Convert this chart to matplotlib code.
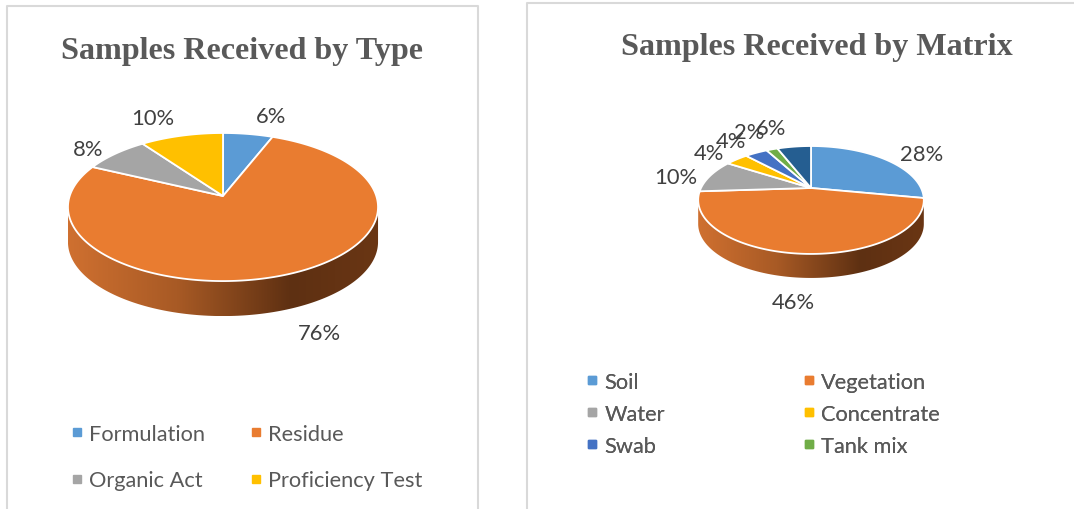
import numpy as np
import matplotlib
matplotlib.use("Agg")
import matplotlib.pyplot as plt
from matplotlib.colors import LinearSegmentedColormap
from matplotlib.lines import Line2D
from matplotlib.patches import Polygon
from matplotlib.path import Path
from matplotlib.transforms import Affine2D, Transform

# ---- data ----
type_labels = ["Formulation", "Residue", "Organic Act", "Proficiency Test"]
type_values = [6, 76, 8, 10]
type_colors = ["#5B9BD5", "#E97C30", "#A5A5A5", "#FFC000"]
type_title = "Samples Received by Type"

matrix_labels = ["Soil", "Vegetation", "Water", "Concentrate", "Swab", "Tank mix"]
matrix_values = [28, 46, 10, 4, 4, 2, 6]
matrix_colors = ["#5B9BD5", "#E97C30", "#A5A5A5", "#FFC000", "#4472C4", "#70AD47", "#255E91"]
matrix_title = "Samples Received by Matrix"

# ---- layout (pixels) ----
type_pct_pos = [(271, 117), (319, 334), (88, 150), (153, 119)]
matrix_pct_pos = [(922, 155), (793, 303), (676, 178), (709, 154), (731, 142), (749, 133), (771, 129)]

W, H = 1074, 510
TEXT = "#404040"
LEG = "#595959"
LABEL_FONT = "Lato"


class Perspective(Transform):
    """Projects the flat unit pie as a tilted disc seen in perspective."""
    input_dims = output_dims = 2

    def __init__(self, k):
        super().__init__()
        self.k = k

    def transform_non_affine(self, values):
        values = np.asarray(values, float)
        d = 1 + self.k * values[:, 1]
        return np.column_stack([values[:, 0] / d, values[:, 1] / d])

    def transform_path_non_affine(self, path):
        polys = path.to_polygons(Affine2D().scale(2000), closed_only=True)
        pts = np.vstack(polys) / 2000
        return Path(self.transform_non_affine(pts), closed=True)


fig = plt.figure(figsize=(W / 100, H / 100), dpi=100)
ax = fig.add_axes([0, 0, 1, 1])
wall_cmap = LinearSegmentedColormap.from_list(
    "wall", [(0, "#CF7030"), (0.35, "#A85A25"), (0.72, "#5E3012"), (1, "#6A3614")])


def pie3d(values, colors, cx, cy, sx, sy, k, depth):
    wedges, _ = ax.pie(values, colors=colors, startangle=90, counterclock=False,
                       wedgeprops=dict(edgecolor="white", linewidth=1.3))
    persp = Perspective(k)
    to_px = Affine2D().scale(sx, -sy).translate(cx, cy)
    for w in wedges:
        w.set_transform(persp + to_px + ax.transData)
        w.set_zorder(2)
    # side wall along the near edge of the disc
    start = np.arcsin(k)
    a = np.linspace(np.pi + start, 2 * np.pi - start, 200)
    rim = to_px.transform(persp.transform(np.column_stack([np.cos(a), np.sin(a)])))
    low = rim + [0, depth]
    wall = Polygon(np.vstack([rim, low[::-1]]), closed=True, transform=ax.transData,
                   facecolor="none", edgecolor="none")
    ax.add_patch(wall)
    img = ax.imshow(np.linspace(0, 1, 256)[None, :], cmap=wall_cmap, aspect="auto",
                    extent=(rim[:, 0].min(), rim[:, 0].max(), low[:, 1].max(), rim[:, 1].min()),
                    zorder=1)
    img.set_clip_path(wall)


def pct_labels(values, positions, size):
    for v, (x, y) in zip(values, positions):
        ax.text(x, y, f"{v}%", ha="center", va="center", fontsize=size,
                color=TEXT, family=LABEL_FONT, zorder=5)


def legend(labels, colors, x, y, ncol_gap, row_gap):
    handles = [Line2D([], [], ls="none", marker="s", ms=5.6, color=c, label=t)
               for t, c in zip(labels, colors)]
    leg = ax.legend(handles=handles, ncol=2, frameon=False, loc="upper left",
                    bbox_to_anchor=(x, y), bbox_transform=ax.transData,
                    borderpad=0, borderaxespad=0, handlelength=0.5, handletextpad=0.3,
                    columnspacing=ncol_gap, labelspacing=row_gap,
                    prop=dict(family=LABEL_FONT, size=15.7), labelcolor=LEG)
    ax.add_artist(leg)


pie3d(type_values, type_colors, 223, 197, 153.3, 72.4, 0.149, 35)
pie3d(matrix_values, matrix_colors, 811, 189, 110, 51.3, 0.222, 24)

pct_labels(type_values, type_pct_pos, 15.8)
pct_labels(matrix_values, matrix_pct_pos, 15.8)

ax.text(242, 51, type_title, ha="center", va="center", fontsize=23.1, fontweight="bold",
        family="Liberation Serif", color=LEG)
ax.text(816.5, 48, matrix_title, ha="center", va="center", fontsize=23.1, fontweight="bold",
        family="Liberation Serif", color=LEG)

legend(type_labels[::2] + type_labels[1::2], [type_colors[i] for i in (0, 2, 1, 3)], 71.5, 425, 2.1, 1.2)
legend(matrix_labels[::2] + matrix_labels[1::2], [matrix_colors[i] for i in (0, 2, 4, 1, 3, 5)], 587, 373, 6.35, 0.55)

# panel borders
ax.plot([7, 7, 478, 478], [510, 7, 7, 510], color="#D9D9D9", lw=1.5, zorder=6)
ax.plot([527, 527, 1074], [510, 4, 4], color="#D9D9D9", lw=1.5, zorder=6)

ax.set_aspect("auto")
ax.set_xlim(0, W)
ax.set_ylim(H, 0)
ax.axis("off")
fig.savefig("out.png", dpi=100, facecolor="white")
